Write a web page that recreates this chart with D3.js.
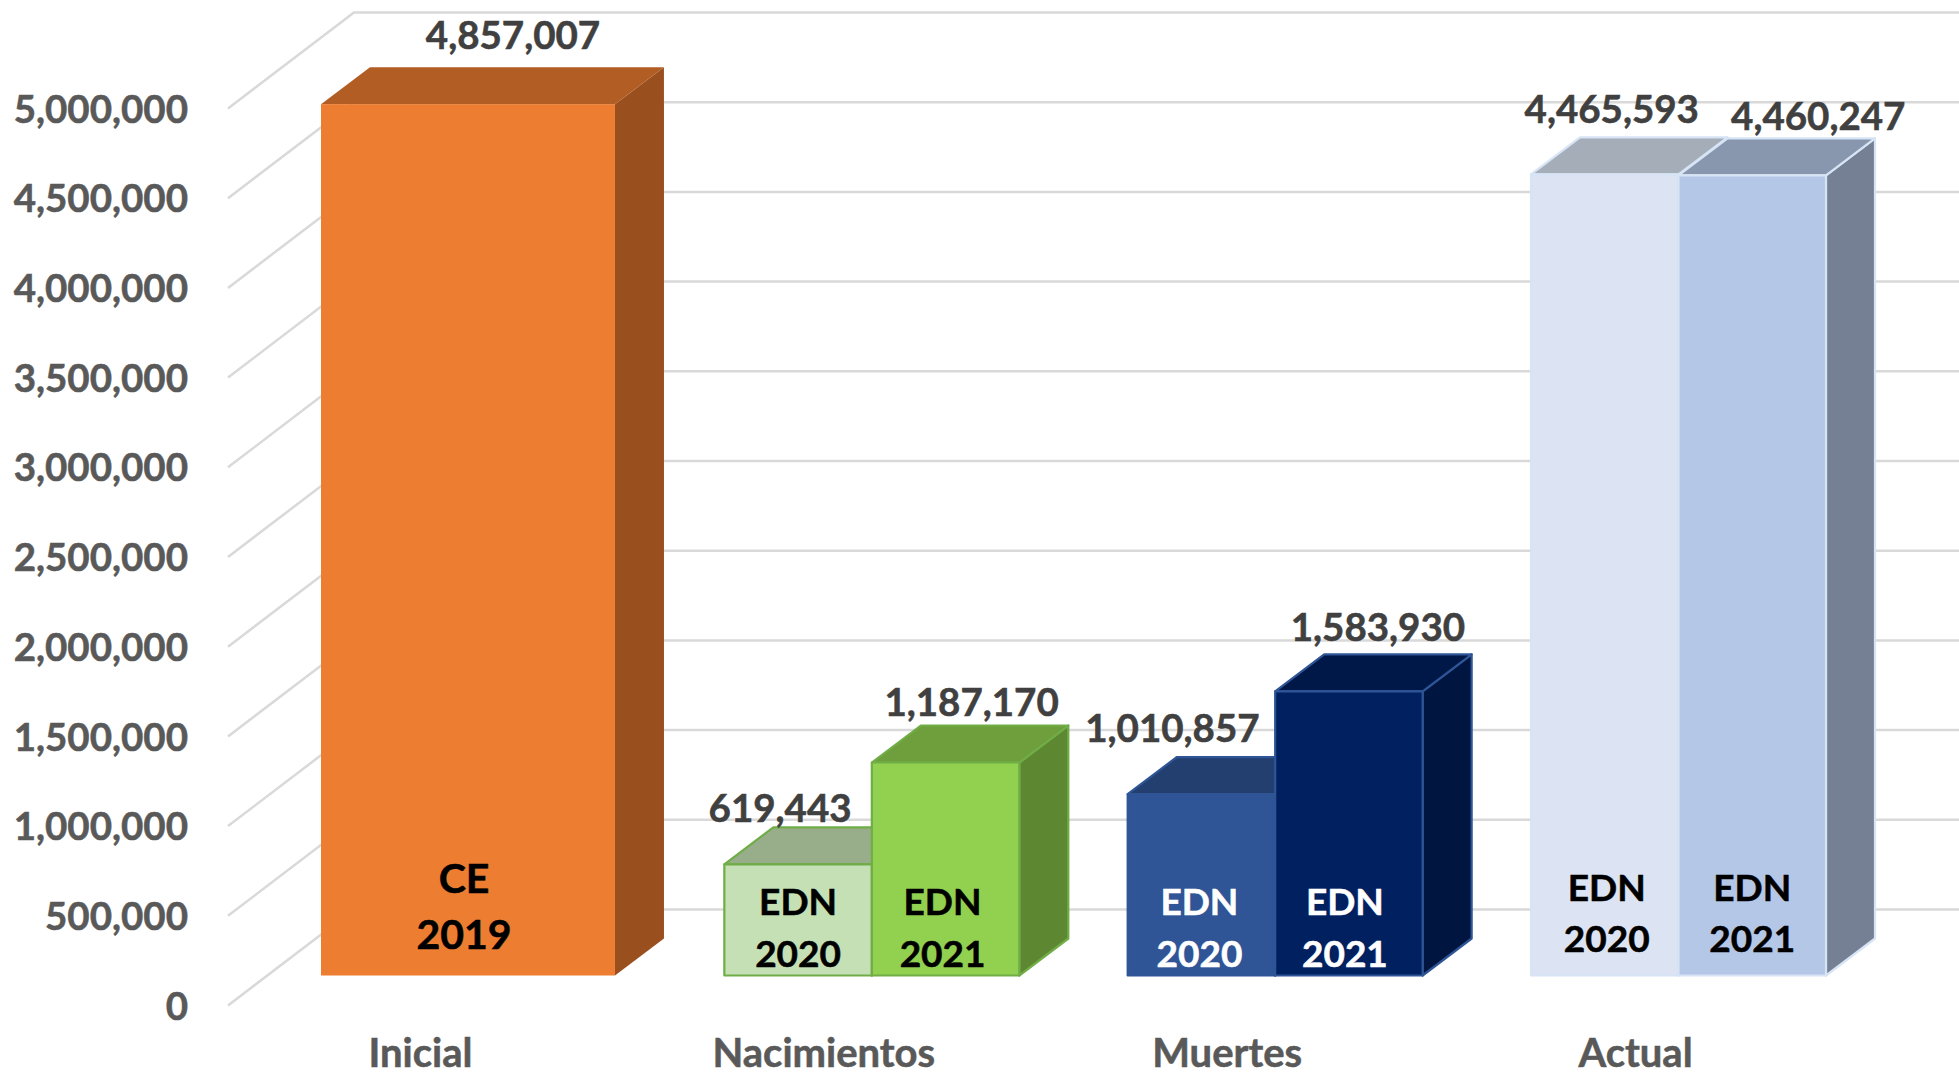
<!DOCTYPE html>
<html>
<head>
<meta charset="utf-8">
<style>
html,body{margin:0;padding:0;background:#fff;overflow:hidden}
svg{display:block}
text{font-family:Lato,"Open Sans",sans-serif;font-weight:700;stroke-width:0.55px}
</style>
<script src="https://cdn.jsdelivr.net/npm/d3@7/dist/d3.min.js"></script>
</head>
<body>
<svg id="chart" width="1959" height="1076"></svg>
<script>
// ---- data ----
const categories = ["Inicial", "Nacimientos", "Muertes", "Actual"];
const tickValues = [0, 500000, 1000000, 1500000, 2000000, 2500000, 3000000, 3500000, 4000000, 4500000, 5000000];
const barCategory = ["Inicial", "Nacimientos", "Nacimientos", "Muertes", "Muertes", "Actual", "Actual"];
const barSlot = [null, "2020", "2021", "2020", "2021", "2020", "2021"];
const barValues = [4857007, 619443, 1187170, 1010857, 1583930, 4465593, 4460247];
const barSource = ["CE", "EDN", "EDN", "EDN", "EDN", "EDN", "EDN"];
const barYear = ["2019", "2020", "2021", "2020", "2021", "2020", "2021"];

// ---- styles ----
const frontColors = ["#ED7D31", "#C5E0B4", "#92D050", "#2F5597", "#002060", "#DCE3F2", "#B4C7E7"];
const topColors = ["#B25D23", "#98AD8A", "#6F9E3C", "#233F70", "#001848", "#A5ADB9", "#8997AE"];
const sideColors = ["#9A4F1E", "#7F9A6C", "#5E8732", "#1F3864", "#001640", "#8D95A3", "#758094"];
const edgeColors = ["none", "#70AD47", "#70AD47", "#2F5597", "#2F5597", "#D6E4F5", "#D6E4F5"];
const innerTextColors = ["#000", "#000", "#000", "#fff", "#fff", "#000", "#000"];

// ---- layout ----
const W = 1959, H = 1076;
const depth = {dx: 49, dy: 37};            // bar depth
const plane = {front: 30, back: -66};      // grid floor offset from the bar plane
const gridX = {front: 228, back: 354};
const valueLabelOffset = [[45, -55], [-18, -42], [26, -47], [-29, -52], [29, -50], [7, -51], [66, -45]];
const innerLabelY = [[893, 949], [915, 967], [915, 967], [915, 967], [915, 967], [901, 952], [901, 952]];
const innerLabelSize = [41, 37, 37, 37, 37, 37, 37];
const innerLabelDx = [-4, 0, -3, -2, -4, 2, 0];
const categoryLabelDx = [-48, -48, -48, -43];

const y = d3.scaleLinear().domain([0, 5000000]).range([975.5, 78.5]);
const x = d3.scaleBand().domain(categories).range([321, 1826]).paddingInner(0.2687).paddingOuter(0);
const sub = d3.scaleBand().domain(["2020", "2021"]).range([0, x.bandwidth()]);

const svg = d3.select("#chart");
svg.append("rect").attr("width", W).attr("height", H).attr("fill", "#fff");

// gridlines: floor diagonal + back wall
const grid = svg.append("g").attr("fill", "none").attr("stroke", "#D9D9D9").attr("stroke-width", 2.5);
grid.selectAll("path").data(tickValues).join("path")
  .attr("d", d => {
    const p = d3.path();
    p.moveTo(gridX.front, y(d) + plane.front);
    p.lineTo(gridX.back, y(d) + plane.back);
    p.lineTo(W, y(d) + plane.back);
    return p.toString();
  });

// y axis labels
const axisG = svg.append("g")
  .attr("transform", `translate(188,${plane.front - 1})`)
  .call(d3.axisLeft(y).tickValues(tickValues).tickFormat(d3.format(",")).tickSize(0).tickPadding(0));
axisG.select(".domain").remove();
axisG.selectAll("text")
  .attr("x", 0).attr("dy", "0.38em")
  .attr("fill", "#595959").attr("stroke", "#595959")
  .style("font-size", "38.5px");

// category labels
svg.append("g").selectAll("text").data(categories).join("text")
  .attr("x", (d, i) => x(d) + x.bandwidth() / 2 + categoryLabelDx[i])
  .attr("y", 1067)
  .attr("text-anchor", "middle")
  .attr("fill", "#595959").attr("stroke", "#595959")
  .style("font-size", "40px")
  .text(d => d);

// bars
const bars = barValues.map((v, i) => {
  const x0 = x(barCategory[i]) + (barSlot[i] ? sub(barSlot[i]) : 0);
  const w = barSlot[i] ? sub.bandwidth() : x.bandwidth() - 1;
  return {i, v, x0, x1: x0 + w, yt: y(v), yb: y(0)};
});
const barG = svg.append("g").selectAll("g").data(bars).join("g")
  .attr("stroke-width", 2.2)
  .attr("stroke-linejoin", "round")
  .attr("stroke", d => edgeColors[d.i]);
const poly = pts => "M" + pts.map(p => p.join(",")).join("L") + "Z";
barG.append("path") // side
  .attr("fill", d => sideColors[d.i])
  .attr("d", d => poly([[d.x1, d.yt], [d.x1 + depth.dx, d.yt - depth.dy], [d.x1 + depth.dx, d.yb - depth.dy], [d.x1, d.yb]]));
barG.append("path") // top
  .attr("fill", d => topColors[d.i])
  .attr("d", d => poly([[d.x0, d.yt], [d.x0 + depth.dx, d.yt - depth.dy], [d.x1 + depth.dx, d.yt - depth.dy], [d.x1, d.yt]]));
barG.append("rect") // front
  .attr("fill", d => frontColors[d.i])
  .attr("x", d => d.x0).attr("y", d => d.yt)
  .attr("width", d => d.x1 - d.x0).attr("height", d => d.yb - d.yt);

// value labels
svg.append("g").selectAll("text").data(bars).join("text")
  .attr("x", d => (d.x0 + d.x1) / 2 + valueLabelOffset[d.i][0])
  .attr("y", d => d.yt + valueLabelOffset[d.i][1])
  .attr("text-anchor", "middle")
  .attr("fill", "#404040").attr("stroke", "#404040")
  .style("font-size", "38.5px")
  .text(d => d3.format(",")(d.v));

// labels inside bars
const inner = svg.append("g").selectAll("g").data(bars).join("g")
  .attr("text-anchor", "middle")
  .attr("fill", d => innerTextColors[d.i])
  .attr("stroke", d => innerTextColors[d.i])
  .style("font-size", d => innerLabelSize[d.i] + "px");
inner.append("text")
  .attr("x", d => (d.x0 + d.x1) / 2 + innerLabelDx[d.i])
  .attr("y", d => innerLabelY[d.i][0])
  .text(d => barSource[d.i]);
inner.append("text")
  .attr("x", d => (d.x0 + d.x1) / 2 + innerLabelDx[d.i])
  .attr("y", d => innerLabelY[d.i][1])
  .text(d => barYear[d.i]);
</script>
</body>
</html>
